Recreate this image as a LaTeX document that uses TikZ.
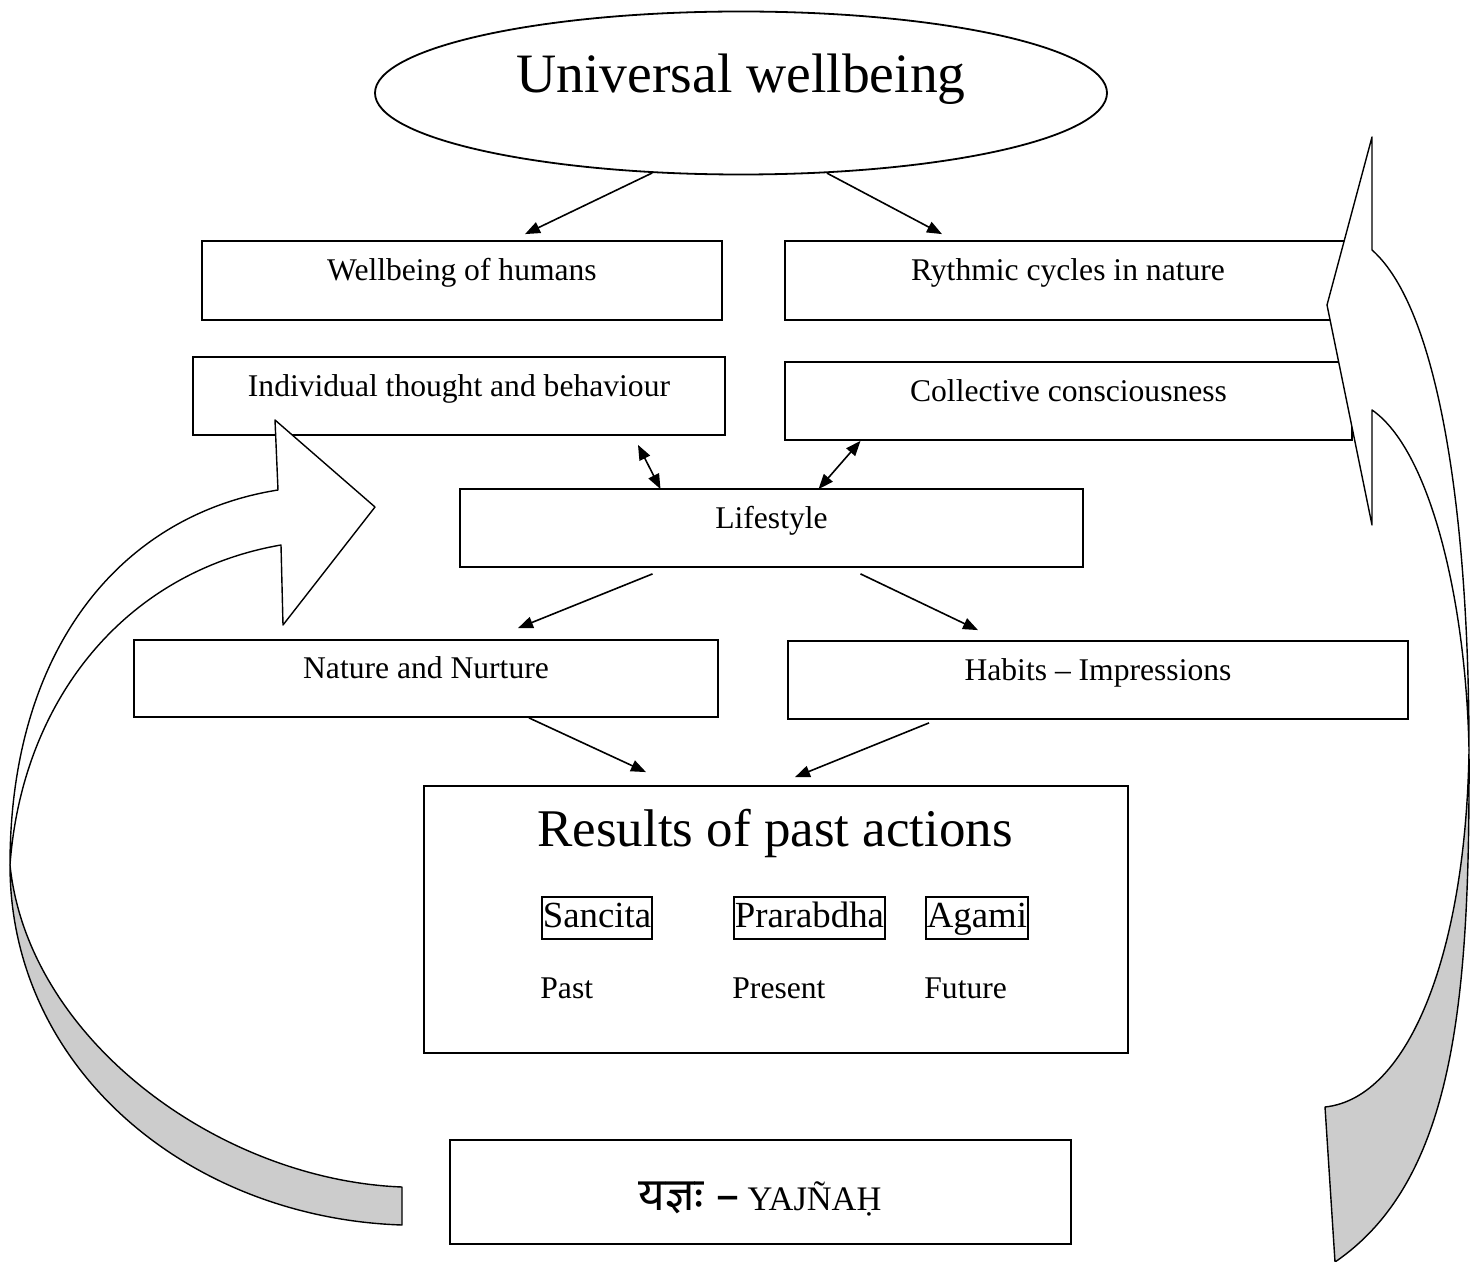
\documentclass[tikz,border=0pt]{standalone}
\usepackage{fontspec}
\setmainfont{Liberation Serif}
\newfontfamily\devfont[Script=Devanagari]{Noto Sans}
\usetikzlibrary{arrows.meta,shapes.geometric,calc}

\tikzset{
  box/.style={draw, line width=0.9pt, inner sep=0pt, text height=12pt, text depth=12pt, font=\fontsize{15.8}{19}\selectfont},
  tagbox/.style={draw, line width=0.8pt, inner xsep=0.5pt, inner ysep=0.75pt, text height=14.5pt, text depth=5pt, anchor=west, font=\fontsize{18.4}{22}\selectfont},
  timelbl/.style={anchor=base west, inner sep=0pt, font=\fontsize{15.8}{19}\selectfont},
  arr/.style={line width=0.8pt, -{Triangle[length=7.5pt,width=5.8pt]}},
  darr/.style={line width=0.8pt, {Triangle[length=7.5pt,width=5.8pt]}-{Triangle[length=7.5pt,width=5.8pt]}},
  bigarrow/.style={line width=0.7pt, line join=round},
}

\begin{document}
\begin{tikzpicture}[x=0.5pt,y=-0.5pt]
\useasboundingbox (0,0) rectangle (1482,1262);

% Top
\node[draw, ellipse, line width=0.9pt, minimum width=366pt, minimum height=81.5pt, inner sep=0pt,
      text height=20pt, text depth=20pt, font=\fontsize{27.8}{32}\selectfont] (uw) at (741,93) {Universal wellbeing};

% Boxes
\node[box, minimum width=260pt, minimum height=39.5pt] (wbh) at (462,280.5) {Wellbeing of humans};
\node[box, minimum width=283pt, minimum height=39.5pt] (rcn) at (1068,280.5) {Rythmic cycles in nature};
\node[box, minimum width=266pt, minimum height=39pt] (itb) at (459,396) {Individual thought and behaviour};
\node[box, minimum width=283.5pt, minimum height=39pt] (cc) at (1068.5,401) {Collective consciousness};
\node[box, minimum width=311.5pt, minimum height=39pt] (life) at (771.5,528) {Lifestyle};
\node[box, minimum width=292pt, minimum height=38.5pt] (nn) at (426,678.5) {Nature and Nurture};
\node[box, minimum width=310pt, minimum height=39pt] (hi) at (1098,680) {Habits -- Impressions};

% Results of past actions
\node[box, minimum width=352pt, minimum height=133.5pt] (res) at (776,919.5) {};
\node[anchor=base, inner sep=0pt, font=\fontsize{26.5}{30}\selectfont] (resT) at (775,846) {Results of past actions};
\node[tagbox] (san) at (541,918) {Sancita};
\node[tagbox] (pra) at (733,918) {Prarabdha};
\node[tagbox] (aga) at (925,918) {Agami};
\node[timelbl] (past) at (540,998.5) {Past};
\node[timelbl] (pres) at (732,998.5) {Present};
\node[timelbl] (fut) at (924,998.5) {Future};

% Yajnah
\node[box, minimum width=310.5pt, minimum height=52pt] (yaj) at (760.5,1192) {};
\node[anchor=base, inner sep=0pt, font=\fontsize{17.2}{20}\selectfont] (yajT) at (760,1210)
  {{\devfont\bfseries\fontsize{23}{26}\selectfont यज्ञः –} YAJÑAḤ};

% Left loop arrow
\filldraw[bigarrow, fill=black!20] (10,865) .. controls (10,1070) and (190,1218) .. (402,1225)
  -- (402,1187) .. controls (220,1180) and (28,1040) .. (10,865) -- cycle;
\filldraw[bigarrow, fill=white] (10,865) .. controls (10,650) and (120,515) .. (278,490)
  -- (275,420) -- (375,507) -- (283,625) -- (281,545)
  .. controls (125,572) and (22,700) .. (10,865) -- cycle;

% Right loop arrow
\filldraw[bigarrow, fill=black!20] (1469,750) .. controls (1470,1000) and (1455,1180) .. (1335,1262)
  -- (1325,1107) .. controls (1410,1098) and (1466,950) .. (1469,750) -- cycle;
\filldraw[bigarrow, fill=white] (1469,750) .. controls (1469,520) and (1440,310) .. (1372,250)
  -- (1372,137) -- (1327,305) -- (1372,525) -- (1372,410)
  .. controls (1430,450) and (1466,600) .. (1469,750) -- cycle;

% Connectors
\draw[arr] (uw.222) -- ($(wbh.north)+(63,-6)$);
\draw[arr] (uw.317) -- ($(rcn.north)+(-126,-6)$);
\draw[darr] ($(itb.south)+(179,9)$) -- ($(life.north)+(-111,1)$);
\draw[darr] ($(cc.south)+(-208,0)$) -- ($(life.north)+(47,1)$);
\draw[arr] ($(life.south)+(-119,6)$) -- ($(nn.north)+(92,-11)$);
\draw[arr] ($(life.south)+(89,6)$) -- ($(hi.north)+(-120,-10)$);
\draw[arr] ($(nn.south)+(103,0)$) -- ($(res.north)+(-130,-13)$);
\draw[arr] ($(hi.south)+(-169,3)$) -- ($(res.north)+(19,-8)$);

\end{tikzpicture}
\end{document}
